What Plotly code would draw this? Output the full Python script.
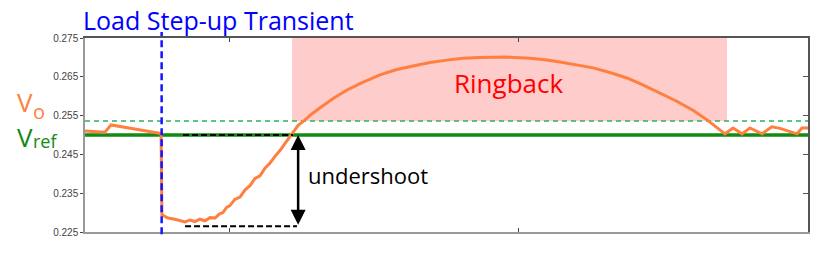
import plotly.graph_objects as go

# ---- data (time in arbitrary units, voltage in V) ----
t_vo = [0, 0.69, 0.90, 2.63, 2.66, 2.87, 3.11, 3.28, 3.46, 3.63, 3.80, 3.97, 4.15, 4.32,
        4.50, 4.64, 4.77, 4.89, 5.01, 5.18, 5.36, 5.53, 5.71, 5.88, 6.05, 6.23, 6.40, 6.57,
        6.74, 6.98, 7.16, 7.37, 7.61, 7.85, 8.13, 8.58, 9.06, 9.58, 10.20, 10.75, 11.34,
        11.93, 12.52, 13.07, 13.66, 14.52, 15.39, 15.91, 16.42, 17.01, 17.57, 18.15, 18.74,
        19.29, 19.88, 20.46, 21.02, 21.26, 21.51, 21.82, 22.13, 22.41, 22.72, 22.99, 23.41,
        23.75, 24.03, 24.62, 24.79, 25.0]
vo = [0.2510, 0.2507, 0.2526, 0.2504, 0.2294, 0.2286, 0.2283, 0.2280, 0.2276, 0.2281,
      0.2277, 0.2283, 0.2279, 0.2287, 0.2286, 0.2296, 0.2300, 0.2313, 0.2318, 0.2334,
      0.2340, 0.2358, 0.2370, 0.2388, 0.2395, 0.2415, 0.2428, 0.2445, 0.2460, 0.2485,
      0.2505, 0.2525, 0.2539, 0.2555, 0.2570, 0.2594, 0.2616, 0.2635, 0.2655, 0.2668,
      0.2678, 0.2687, 0.2693, 0.2698, 0.2700, 0.2701, 0.2698, 0.2694, 0.2688, 0.2681,
      0.2673, 0.2661, 0.2647, 0.2629, 0.2608, 0.2587, 0.2564, 0.2552, 0.2539, 0.2521,
      0.2503, 0.2518, 0.2503, 0.2518, 0.2503, 0.2521, 0.2517, 0.2503, 0.2518, 0.2518]

t_range = [0, 25]
vref = 0.25
v_threshold = 0.2536
v_undershoot = 0.2265
t_step = 2.65
ringback_t = [7.16, 22.20]
undershoot_top_t = [3.39, 7.19]
undershoot_bot_t = [3.46, 7.33]
arrow_t = 7.37

y_ticks = [0.225, 0.235, 0.245, 0.255, 0.265, 0.275]
y_ticklabels = ["0.225", "0.235", "0.245", "0.255", "0.265", "0.275"]
x_ticks = [5, 15, 25]

ORANGE = "#FF7F3F"
GREEN = "#138A13"
GREEN_D = "#2DB35A"
BLUE = "#1414FF"

fig = go.Figure()

fig.add_trace(go.Scatter(x=t_range, y=[v_threshold, v_threshold], mode="lines",
                         line=dict(color=GREEN_D, width=1.5, dash="5px,4px"),
                         showlegend=False, hoverinfo="skip"))
fig.add_trace(go.Scatter(x=t_range, y=[vref, vref], mode="lines",
                         line=dict(color=GREEN, width=3.5),
                         showlegend=False, hoverinfo="skip"))
fig.add_trace(go.Scatter(x=t_vo, y=vo, mode="lines",
                         line=dict(color=ORANGE, width=3),
                         showlegend=False, hoverinfo="skip"))
fig.add_trace(go.Scatter(x=undershoot_top_t, y=[vref, vref], mode="lines",
                         line=dict(color="black", width=2, dash="6px,3px"),
                         showlegend=False, hoverinfo="skip"))
fig.add_trace(go.Scatter(x=undershoot_bot_t, y=[v_undershoot, v_undershoot], mode="lines",
                         line=dict(color="black", width=2, dash="6px,3px"),
                         showlegend=False, hoverinfo="skip"))
# dummy trace for the top/right frame axes
fig.add_trace(go.Scatter(x=[None], y=[None], xaxis="x2", yaxis="y2",
                         showlegend=False, hoverinfo="skip"))

fig.add_shape(type="rect", xref="x", yref="y", x0=ringback_t[0], x1=ringback_t[1],
              y0=v_threshold, y1=y_ticks[-1], fillcolor="#FFCCCC", line_width=0,
              layer="below")
fig.add_shape(type="line", xref="x", yref="paper", x0=t_step, x1=t_step,
              y0=-0.012, y1=1.031, line=dict(color=BLUE, width=2.5, dash="7px,4px"))

fig.add_annotation(x=arrow_t, y=vref, ax=arrow_t, ay=v_undershoot, xref="x", yref="y",
                   axref="x", ayref="y", showarrow=True, arrowhead=2, startarrowhead=2,
                   arrowside="end+start", arrowsize=1.2, arrowwidth=2.5, arrowcolor="black",
                   text="")
fig.add_annotation(x=7.64, y=0.2397, xref="x", yref="y", text="undershoot",
                   showarrow=False, xanchor="left", yanchor="middle",
                   font=dict(family="Open Sans", size=22, color="black"))
fig.add_annotation(x=14.65, y=0.2634, xref="x", yref="y", text="Ringback",
                   showarrow=False, xanchor="center", yanchor="middle",
                   font=dict(family="Open Sans", size=26, color="#FF0000"))
fig.add_annotation(x=-0.006, y=1.093, xref="paper", yref="paper",
                   text="Load Step-up Transient", showarrow=False,
                   xanchor="left", yanchor="middle",
                   font=dict(family="Open Sans", size=25, color="#0000FF"))

# V_o and V_ref side labels (main letter + subscript placed separately)
fig.add_annotation(x=-0.097, y=0.672, xref="paper", yref="paper", text="V",
                   showarrow=False, xanchor="left", yanchor="middle",
                   font=dict(family="Open Sans", size=26, color=ORANGE))
fig.add_annotation(x=-0.074, y=0.619, xref="paper", yref="paper", text="o",
                   showarrow=False, xanchor="left", yanchor="middle",
                   font=dict(family="Open Sans", size=20, color=ORANGE))
fig.add_annotation(x=-0.097, y=0.490, xref="paper", yref="paper", text="V",
                   showarrow=False, xanchor="left", yanchor="middle",
                   font=dict(family="Open Sans", size=26, color=GREEN))
fig.add_annotation(x=-0.074, y=0.468, xref="paper", yref="paper", text="ref",
                   showarrow=False, xanchor="left", yanchor="middle",
                   font=dict(family="Open Sans", size=18, color=GREEN))

fig.update_layout(
    width=836, height=254,
    margin=dict(l=85, r=28, t=38, b=22),
    paper_bgcolor="white", plot_bgcolor="white",
    xaxis=dict(range=t_range, tickvals=x_ticks, showticklabels=False, ticks="inside",
               ticklen=4, tickcolor="#444", showgrid=False, zeroline=False,
               showline=True, linecolor="#999999", linewidth=2),
    xaxis2=dict(range=t_range, overlaying="x", side="top", tickvals=x_ticks,
                showticklabels=False, ticks="inside", ticklen=4, tickcolor="#444",
                showgrid=False, zeroline=False, showline=True, linecolor="#555555",
                linewidth=1.5),
    yaxis=dict(range=[y_ticks[0], y_ticks[-1]], tickvals=y_ticks, ticktext=y_ticklabels,
               ticks="outside", ticklen=3, tickcolor="#444", showgrid=False, zeroline=False,
               showline=True, linecolor="#999999", linewidth=1.5,
               tickfont=dict(family="Liberation Sans Narrow, Liberation Sans", size=10,
                             color="#444")),
    yaxis2=dict(range=[y_ticks[0], y_ticks[-1]], overlaying="y", side="right",
                tickvals=y_ticks, showticklabels=False, ticks="inside", ticklen=5,
                tickcolor="#555", showgrid=False, zeroline=False, showline=True,
                linecolor="#555555", linewidth=1.5),
)

fig.write_html("out.html")
